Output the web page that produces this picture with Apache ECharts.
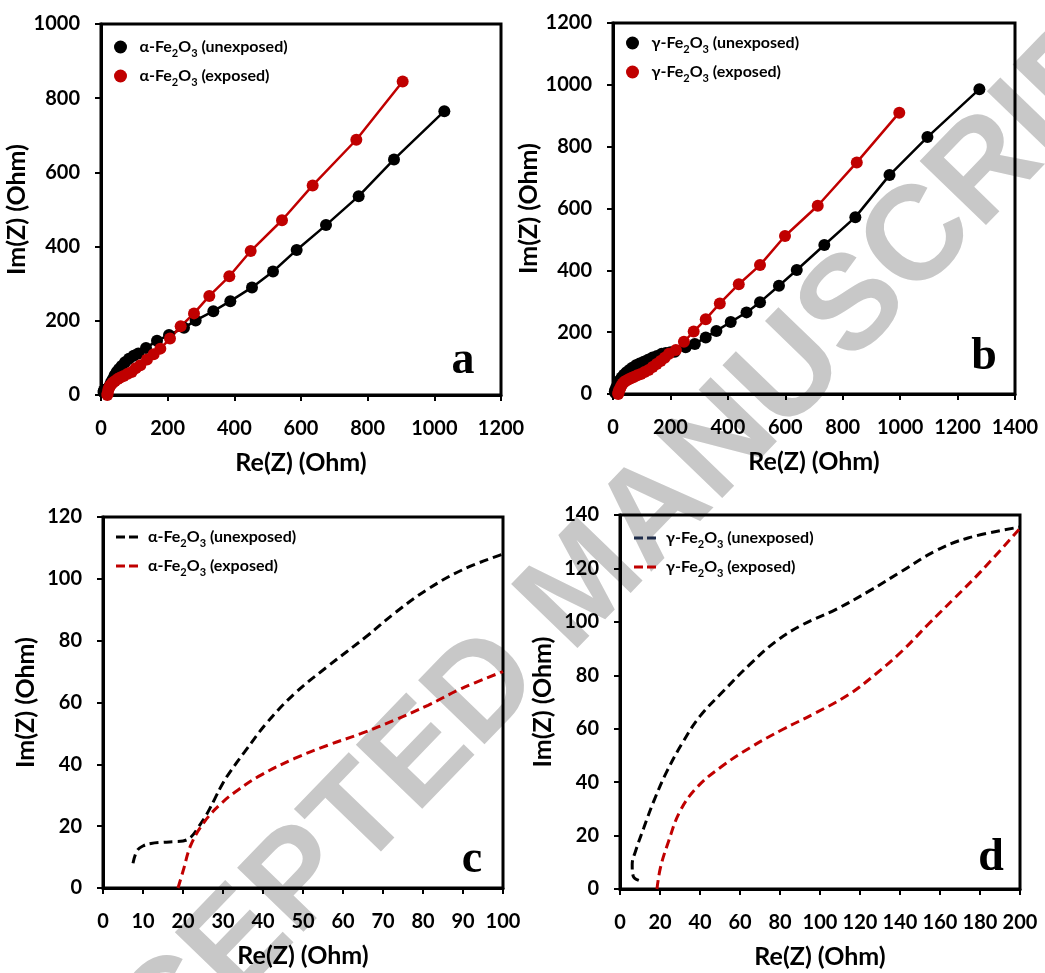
<!DOCTYPE html>
<html>
<head>
<meta charset="utf-8">
<script src="https://cdn.jsdelivr.net/npm/echarts@6/dist/echarts.min.js"></script>
<style>
  html, body { margin: 0; padding: 0; background: #ffffff; }
  #chart { width: 1045px; height: 973px; }
</style>
</head>
<body>
<div id="chart"></div>
<script>
// ---- Panel a: α-Fe2O3 impedance, Re(Z) / Im(Z) in Ohm ----
const aUnexposedRe = [7.5, 8.5, 11, 15, 20, 23, 26, 29, 32, 36, 41, 47, 54, 62, 72, 84, 98, 112, 135, 168, 204, 249, 284, 337, 388, 453, 516, 587, 675, 773, 879, 1030];
const aUnexposedIm = [8, 12, 14, 15, 15, 19, 25, 31, 37, 43, 53, 62, 70, 78, 88, 98, 106, 112, 127, 146, 162, 181, 201, 226, 253, 290, 333, 391, 458, 536, 635, 765];
const aExposedRe = [19, 20, 22, 24, 27, 31, 36, 42, 50, 58, 68, 80, 92, 104, 118, 138, 158, 178, 207, 239, 279, 325, 385, 449, 543, 635, 766, 905];
const aExposedIm = [0, 5, 14, 19, 25, 29, 34, 38, 43, 47, 51, 57, 62, 72, 80, 96, 110, 125, 152, 185, 220, 267, 320, 388, 471, 565, 688, 845];

// ---- Panel b: γ-Fe2O3 impedance ----
const bUnexposedRe = [9, 7, 6.5, 8, 12, 17, 23, 30, 38, 47, 57, 67, 80, 93, 107, 122, 138, 153, 170, 184, 200, 215, 253, 285, 323, 360, 410, 465, 512, 578, 640, 736, 844, 963, 1095, 1276];
const bUnexposedIm = [3, 5, 9, 14, 23, 33, 44, 53, 62, 70, 78, 85, 93, 99, 104, 111, 118, 123, 130, 133, 135, 137, 151, 162, 183, 204, 233, 264, 297, 350, 401, 482, 572, 708, 831, 986];
const bExposedRe = [18, 19, 20, 22, 25, 29, 34, 40, 47, 55, 64, 74, 85, 97, 110, 124, 138, 152, 166, 180, 195, 219, 247, 281, 323, 372, 438, 512, 599, 713, 849, 997];
const bExposedIm = [0, 3, 8, 13, 19, 27, 34, 40, 44, 48, 52, 56, 61, 65, 71, 78, 87, 97, 107, 117, 130, 142, 169, 202, 242, 293, 355, 417, 511, 609, 749, 910];

// ---- Panel c: α-Fe2O3, high-frequency region ----
const cUnexposedRe = [7.5, 8.5, 10, 12, 15, 18, 20, 22, 24, 26, 28, 30, 32, 35.4, 41, 48, 56, 66, 73, 81, 90, 100];
const cUnexposedIm = [8, 12, 13.6, 14.4, 14.8, 15, 15.2, 16.5, 20, 24, 29, 34, 38, 44, 53.5, 63, 71.5, 81.5, 89, 96.5, 103, 108];
const cExposedRe = [18.75, 20, 22, 25.4, 29.6, 33.75, 39.6, 47.9, 56.25, 64.6, 72.9, 81.25, 89.6, 100];
const cExposedIm = [0, 5.4, 14, 21.5, 27.4, 31.7, 36.6, 41.9, 46.2, 50, 54.3, 59.1, 64.5, 70];

// ---- Panel d: γ-Fe2O3, high-frequency region ----
const dUnexposedRe = [9.4, 6.6, 6.1, 7.8, 11.9, 16.9, 23.5, 31.7, 40, 51.6, 64.8, 78, 91.2, 107.8, 124.3, 140.8, 157.4, 174, 200];
const dUnexposedIm = [3.2, 4.8, 9.2, 14.2, 22.9, 32.9, 44.1, 55.3, 64.7, 74, 84, 92.7, 98.9, 104.6, 111.4, 118.9, 126.4, 131.4, 135.5];
const dExposedRe = [18.5, 20.2, 24.3, 30, 38.3, 50, 64.8, 81.3, 97.8, 114.4, 127.6, 140.8, 154, 167.3, 180.5, 200];
const dExposedIm = [0, 7.9, 17.9, 29.1, 37.9, 45.4, 52.8, 59.7, 65.9, 72.8, 80.3, 88.9, 99, 108.9, 118.9, 135];

// ---- Axis ranges and tick steps [min, max, interval] ----
const xRanges = [[0, 1200, 200], [0, 1400, 200], [0, 100, 10], [0, 200, 20]];
const yRanges = [[0, 1000, 200], [0, 1200, 200], [0, 120, 20], [0, 140, 20]];

// ---- Text ----
const xTitle = 'Re(Z) (Ohm)';
const yTitle = 'Im(Z) (Ohm)';
const panelLetters = ['a', 'b', 'c', 'd'];
const phaseNames = ['α', 'γ', 'α', 'γ'];
const stateNames = ['unexposed', 'exposed'];
const watermarkText = 'ACCEPTED MANUSCRIPT';

const BLACK = '#000000';
const RED = '#c00000';
const NAVY = '#1f2d4a';
const FONT = 'Lato';

const pairs = (xs, ys) => xs.map((x, i) => [x, ys[i]]);

// plot areas (px)
const grids = [
  { left: 101, top: 24, width: 400, height: 371 },
  { left: 613, top: 23, width: 402, height: 371 },
  { left: 103, top: 517, width: 400, height: 371 },
  { left: 620, top: 515, width: 400, height: 374 }
];

const axisCommon = {
  axisLine: { show: true, onZero: false, lineStyle: { color: BLACK, width: 3 } },
  axisTick: { show: true, inside: false, length: 6, lineStyle: { color: BLACK, width: 2 } },
  splitLine: { show: false },
  nameLocation: 'middle',
  nameTextStyle: { color: BLACK, fontFamily: FONT, fontWeight: 'bold', fontSize: 25 }
};
const labelStyle = (margin) => ({
  color: BLACK, fontFamily: FONT, fontWeight: 'bold', fontSize: 20, margin,
  formatter: (v) => String(v)
});

const xAxes = xRanges.map((r, i) => Object.assign({}, axisCommon, {
  type: 'value', gridIndex: i, min: r[0], max: r[1], interval: r[2],
  axisLabel: labelStyle(24), name: xTitle, nameGap: 55
}));
const yAxes = yRanges.map((r, i) => Object.assign({}, axisCommon, {
  type: 'value', gridIndex: i, min: r[0], max: r[1], interval: r[2],
  axisLabel: labelStyle(21), name: yTitle, nameGap: 65
}));

const markerSeries = (name, idx, xs, ys, color) => ({
  name, type: 'line', xAxisIndex: idx, yAxisIndex: idx,
  data: pairs(xs, ys), symbol: 'circle', symbolSize: 12,
  itemStyle: { color }, lineStyle: { color, width: 2.5 },
  emphasis: { disabled: true }, z: 3
});
const dashedSeries = (name, idx, xs, ys, color) => ({
  name, type: 'line', xAxisIndex: idx, yAxisIndex: idx,
  data: pairs(xs, ys), symbol: 'none', smooth: 0.4,
  itemStyle: { color }, lineStyle: { color, width: 3, type: [9, 5] },
  emphasis: { disabled: true }, z: 3
});

const series = [
  markerSeries('a-unexposed', 0, aUnexposedRe, aUnexposedIm, BLACK),
  markerSeries('a-exposed', 0, aExposedRe, aExposedIm, RED),
  markerSeries('b-unexposed', 1, bUnexposedRe, bUnexposedIm, BLACK),
  markerSeries('b-exposed', 1, bExposedRe, bExposedIm, RED),
  dashedSeries('c-unexposed', 2, cUnexposedRe, cUnexposedIm, BLACK),
  dashedSeries('c-exposed', 2, cExposedRe, cExposedIm, RED),
  dashedSeries('d-unexposed', 3, dUnexposedRe, dUnexposedIm, BLACK),
  dashedSeries('d-exposed', 3, dExposedRe, dExposedIm, RED)
];

// legend text with subscripts: α-Fe₂O₃ (state)
const richText = {
  t: { fontFamily: FONT, fontWeight: 'bold', fontSize: 16, color: BLACK, lineHeight: 20 },
  s: { fontFamily: FONT, fontWeight: 'bold', fontSize: 11, color: BLACK, lineHeight: 20, verticalAlign: 'bottom', padding: [0, 0, -2, 0] }
};
const legendFormatter = (name) => {
  const p = panelLetters.indexOf(name.charAt(0));
  const state = name.split('-')[1];
  return '{t|' + phaseNames[p] + '-Fe}{s|2}{t|O}{s|3}{t| (' + state + ')}';
};

// two short dashes, used as the legend key of the dashed curves
const DASH_ICON = 'path://M0,0h9v3h-9z M13,0h9v3h-9z';

const legendPos = [
  { left: 109, top: 34 }, { left: 621, top: 30 },
  { left: 111, top: 524 }, { left: 629, top: 525 }
];
const legends = legendPos.map((pos, i) => {
  const letter = panelLetters[i];
  const withMarkers = i < 2;
  return {
    orient: 'vertical', left: pos.left, top: pos.top, itemGap: 9,
    itemWidth: withMarkers ? 24 : 22, itemHeight: withMarkers ? 13 : 3,
    selectedMode: false,
    icon: withMarkers ? 'circle' : DASH_ICON,
    formatter: legendFormatter,
    textStyle: { rich: richText, padding: [0, 0, 0, withMarkers ? 2 : 5] },
    data: stateNames.map((s, k) => {
      const item = { name: letter + '-' + s };
      if (i === 3 && k === 0) item.itemStyle = { color: NAVY };
      return item;
    })
  };
});

const letterPos = [[463, 361], [984, 357], [472, 860], [991, 858]];
const graphics = [
  {
    type: 'text', x: 586, y: 586, rotation: 46 * Math.PI / 180, z: -10, silent: true,
    style: { text: watermarkText, font: 'bold 134px "Liberation Sans"', fill: '#c8c8c8', align: 'center', verticalAlign: 'middle' }
  }
].concat(letterPos.map((p, i) => ({
  type: 'text', x: p[0], y: p[1], z: 10, silent: true,
  style: { text: panelLetters[i], font: 'bold 46px "Liberation Serif"', fill: BLACK, align: 'center', verticalAlign: 'middle' }
})));

const chart = echarts.init(document.getElementById('chart'), null, { renderer: 'canvas' });
chart.setOption({
  animation: false,
  backgroundColor: '#ffffff',
  grid: grids.map(g => Object.assign({ show: true, borderColor: BLACK, borderWidth: 3, backgroundColor: 'transparent', containLabel: false }, g)),
  xAxis: xAxes,
  yAxis: yAxes,
  legend: legends,
  series: series,
  graphic: graphics
});
</script>
</body>
</html>
